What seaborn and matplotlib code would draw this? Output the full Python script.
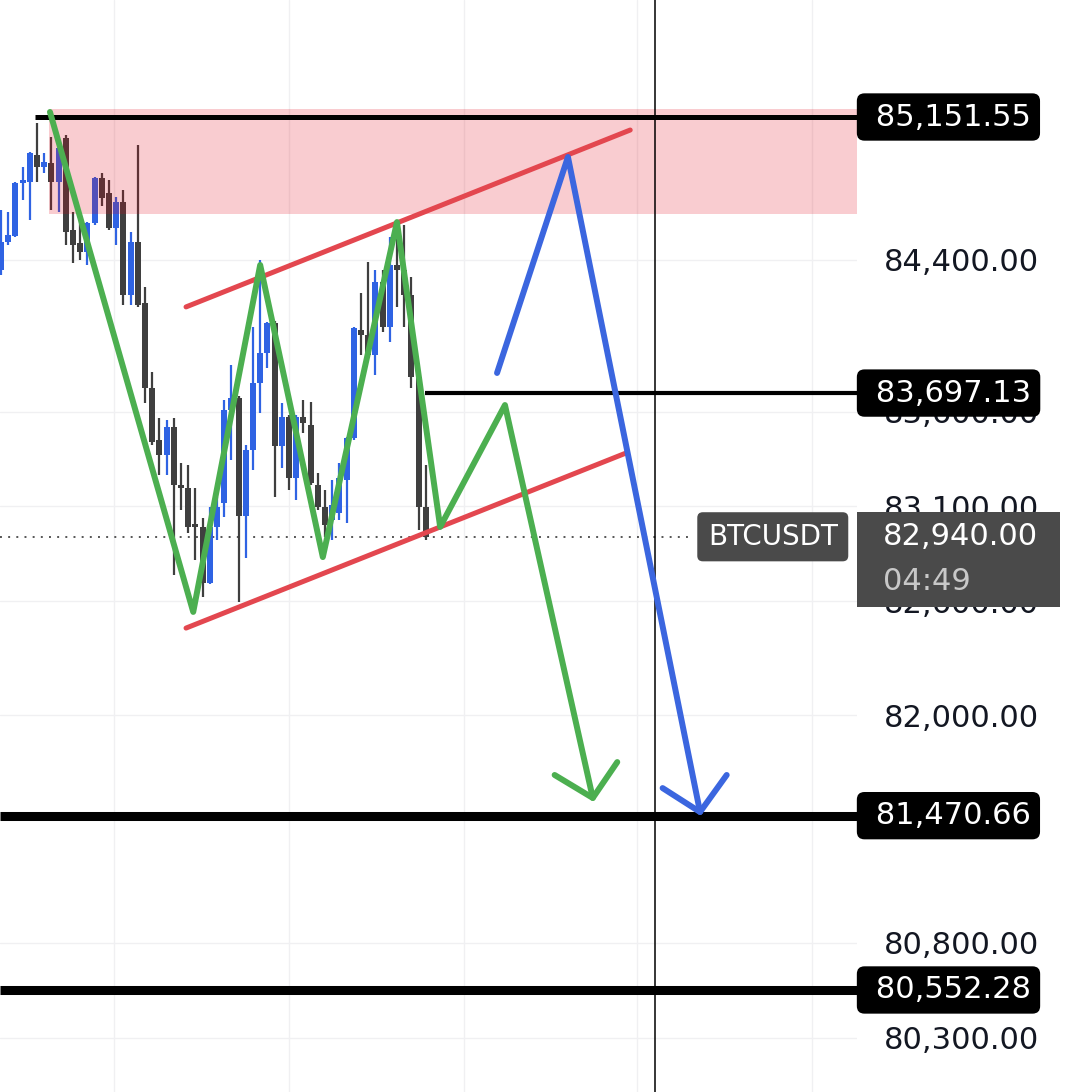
import numpy as np
import seaborn as sns
import matplotlib
matplotlib.use("Agg")
import matplotlib.pyplot as plt
from matplotlib.patches import Rectangle

# ---------------- data ----------------
candle_open = [84346, 84493, 84525, 84804, 84809, 84951, 84888, 84909, 84809, 85041,
               84556, 84488, 84440, 84593, 84830, 84751, 84567, 84704, 84214, 84493,
               84172, 83724, 83450, 83371, 83518, 83213, 83197, 83002, 82992, 82697,
               82992, 83118, 83608, 83671, 83049, 83397, 83750, 83908, 84066, 83418,
               83571, 83250, 83571, 83529, 83213, 83097, 83029, 83065, 83239, 83460,
               84030, 84003, 83898, 84282, 84045, 84372, 84346, 84214, 83782, 83097]
candle_high = [84662, 84651, 84809, 84888, 84967, 85120, 84962, 85046, 85030, 85057,
               84651, 84609, 84598, 84835, 84857, 84820, 84730, 84767, 84546, 85004,
               84256, 83808, 83566, 83555, 83566, 83329, 83318, 83197, 83039, 83097,
               83150, 83661, 83845, 83680, 83424, 84045, 84398, 84071, 84075, 83645,
               83580, 83580, 83661, 83650, 83276, 83187, 83239, 83329, 83466, 84045,
               84224, 84388, 84346, 84346, 84519, 84609, 84583, 84309, 83790, 83318]
candle_low = [84319, 84477, 84519, 84714, 84609, 84809, 84857, 84662, 84651, 84477,
              84382, 84398, 84372, 84583, 84683, 84556, 84477, 84161, 84161, 84150,
              83645, 83424, 83265, 83265, 82739, 83081, 82960, 82818, 82623, 82690,
              82923, 83044, 83345, 82596, 82828, 83292, 83592, 83829, 83150, 83302,
              83187, 83134, 83487, 83213, 83081, 82939, 82923, 83029, 83013, 83450,
              83898, 83890, 83792, 84019, 83966, 84151, 84045, 83724, 82976, 82925]
candle_close = [84493, 84530, 84804, 84820, 84962, 84888, 84915, 84809, 84988, 84546,
                84477, 84440, 84593, 84830, 84725, 84567, 84704, 84214, 84493, 84161,
                83724, 83439, 83371, 83518, 83213, 83197, 82992, 82992, 82697, 82992,
                83097, 83608, 83671, 83049, 83397, 83750, 83908, 84066, 83418, 83571,
                83250, 83571, 83539, 83223, 83097, 83002, 83107, 83250, 83460, 84040,
                84003, 83898, 84282, 84045, 84372, 84346, 84214, 83782, 83097, 82940]

price_ticks = [84400, 83600, 83100, 82600, 82000, 80800, 80300]
tick_labels = [f"{v:,.2f}" for v in price_ticks]
time_grid = [15.7, 40.0, 64.3, 88.4, 112.6]

zone_low, zone_high = 84641, 85194
zone_start = 6.7

level_top = 85151.55
level_mid = 83697.13
target_1 = 81470.66
target_2 = 80552.28
level_top_start = 4.7
level_mid_start = 58.9

last_price = 82940.00
countdown = "04:49"
symbol = "BTCUSDT"
now_line_x = 90.8

channel_upper_x = [25.7, 87.4]
channel_upper_y = [84151, 85083]
channel_lower_x = [25.7, 86.8]
channel_lower_y = [82459, 83381]

green_path_x = [6.8, 26.7, 36.0, 44.7, 55.0, 61.0, 70.0, 82.2]
green_path_y = [85178, 82544, 84372, 82833, 84598, 82992, 83634, 81564]
green_head_x = [76.9, 82.2, 85.6]
green_head_y = [81685, 81564, 81753]

blue_path_x = [68.9, 78.75, 97.1]
blue_path_y = [83803, 84941, 81490]
blue_head_x = [91.9, 97.1, 100.8]
blue_head_y = [81616, 81490, 81685]

# ---------------- style ----------------
sns.set_style("white")
plt.rcParams['font.family'] = ['DejaVu Sans']

UP = '#2f63e3'
DOWN = '#3f3f3f'
GREEN = '#4caf50'
BLUE = '#3b66df'
RED = '#e3474f'
TXT = '#131722'

W, H = 1080, 1092
fig = plt.figure(figsize=(W / 100, H / 100), dpi=100)
fig.patch.set_facecolor('white')
ax = fig.add_axes([0, 0, 857 / W, 1])

xmin, xmax = -0.14, 118.9
ymin, ymax = 80014.8, 85768.0
ax.set_xlim(xmin, xmax)
ax.set_ylim(ymin, ymax)
u = (ymax - ymin) / H  # price units per pixel

# grid
ax.set_xticks(time_grid)
ax.set_yticks(price_ticks)
ax.set_yticklabels(tick_labels)
ax.yaxis.tick_right()
ax.tick_params(axis='x', length=0, labelbottom=False)
ax.tick_params(axis='y', length=0, pad=19, labelsize=22, labelcolor=TXT)
ax.grid(True, color='#f0f0f2', lw=1.0)
ax.set_axisbelow(True)
for s in ax.spines.values():
    s.set_visible(False)

# candles
o = np.array(candle_open, float)
h = np.array(candle_high, float)
l = np.array(candle_low, float)
c = np.array(candle_close, float)
idx = np.arange(len(o))
cols = np.where(c >= o, UP, DOWN)
ax.vlines(idx, l, h, colors=cols, lw=1.6, zorder=2)
body_bot = np.minimum(o, c)
body_h = np.maximum(np.abs(c - o), 14)
ax.bar(idx, body_h, bottom=body_bot, width=0.82, color=cols, lw=0, zorder=2.1)

# current price dotted line
ax.hlines(last_price, xmin, 95.7, colors='#555555', linestyles=(0, (1, 3.2)), lw=1.4, zorder=1.9)

# resistance zone
ax.fill_between([zone_start, xmax], zone_low, zone_high, color='#e10014', alpha=0.2, lw=0, zorder=3)

# levels
ax.hlines(level_top, level_top_start, xmax, colors='black', lw=3.6, zorder=4)
ax.hlines(level_mid, level_mid_start, xmax, colors='black', lw=3.0, zorder=4)
ax.hlines(target_1, xmin, xmax, colors='black', lw=6.5, zorder=4)
ax.hlines(target_2, xmin, xmax, colors='black', lw=6.5, zorder=4)
ax.axvline(now_line_x, color='black', lw=1.1, zorder=4)

# channel
line_kw = dict(sort=False, estimator=None, ax=ax, solid_capstyle='round', solid_joinstyle='round')
sns.lineplot(x=channel_upper_x, y=channel_upper_y, color=RED, lw=3.6, zorder=5, **line_kw)
sns.lineplot(x=channel_lower_x, y=channel_lower_y, color=RED, lw=3.6, zorder=5, **line_kw)

# scenarios
sns.lineplot(x=green_path_x, y=green_path_y, color=GREEN, lw=4.3, zorder=6, **line_kw)
sns.lineplot(x=green_head_x, y=green_head_y, color=GREEN, lw=4.3, zorder=6, **line_kw)
sns.lineplot(x=blue_path_x, y=blue_path_y, color=BLUE, lw=4.3, zorder=6, **line_kw)
sns.lineplot(x=blue_head_x, y=blue_head_y, color=BLUE, lw=4.3, zorder=6, **line_kw)
ax.set_xlabel('')
ax.set_ylabel('')

# price labels on the scale
tr = ax.get_yaxis_transform()
for lvl in [level_top, level_mid, target_1, target_2]:
    ax.text(1.0105, lvl, ' ' + f"{lvl:,.2f}", transform=tr, ha='left', va='center',
            fontsize=22, color='white', clip_on=False, zorder=10,
            bbox=dict(boxstyle='round,pad=0.3,rounding_size=0.25', fc='black', ec='none'))

# symbol tag
ax.text(107.2, last_price, symbol, ha='center', va='center', fontsize=20, color='white',
        zorder=10, bbox=dict(boxstyle='round,pad=0.38,rounding_size=0.2', fc='#4a4a4a', ec='none'))

# last price box with countdown
ax.add_patch(Rectangle((1.0, last_price - 70 * u), 203 / 857, 95 * u, transform=tr,
                       fc='#4a4a4a', ec='none', clip_on=False, zorder=9))
ax.text(883 / 857, last_price, f"{last_price:,.2f}", transform=tr, ha='left', va='center',
        fontsize=22, color='white', clip_on=False, zorder=10)
ax.text(883 / 857, last_price - 45 * u, countdown, transform=tr, ha='left', va='center',
        fontsize=22, color='#c8c8c8', clip_on=False, zorder=10)

fig.savefig('out.png', dpi=100, facecolor='white')
